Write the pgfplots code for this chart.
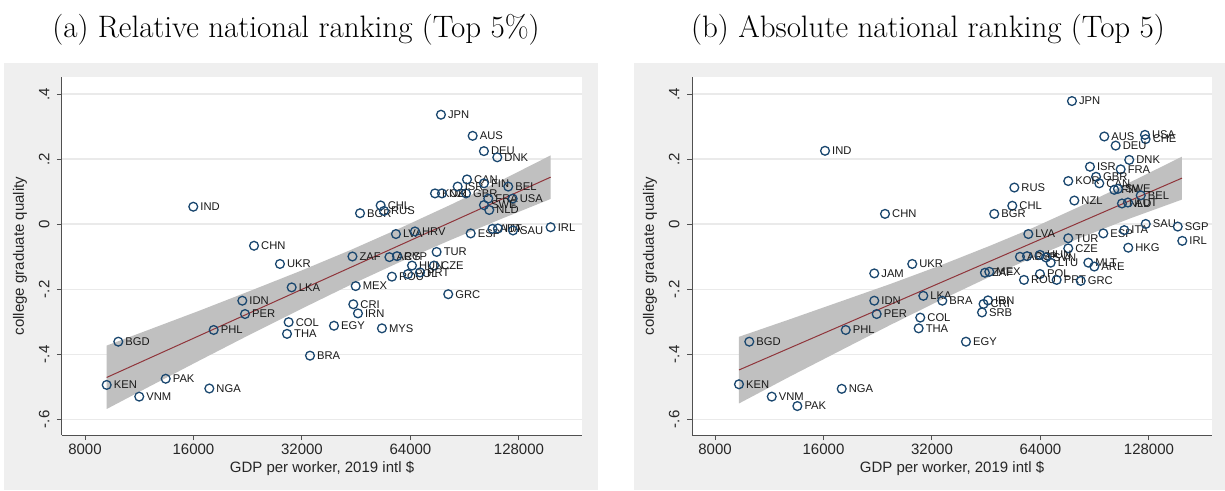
\documentclass[border=0pt]{standalone}
\usepackage{pgfplots}
\pgfplotsset{compat=1.18}
\usepackage{pgfplotstable}
\usepackage{fontspec}
\newfontfamily\sansf{Liberation Sans}
\definecolor{bggray}{RGB}{239,239,239}
\definecolor{gridc}{RGB}{234,234,234}
\definecolor{navy}{RGB}{26,71,111}
\definecolor{maroon}{RGB}{144,53,59}
\definecolor{bandc}{RGB}{192,192,192}
\definecolor{axc}{RGB}{80,80,80}

\pgfplotstableread{
x y lab
13.964 0.054 IND
14.524 -0.066 CHN
14.763 -0.122 UKR
14.871 -0.194 LKA
14.416 -0.235 IDN
14.441 -0.276 PER
14.152 -0.325 PHL
13.273 -0.361 BGD
14.843 -0.301 COL
14.828 -0.337 THA
15.261 -0.312 EGY
15.040 -0.404 BRA
13.166 -0.494 KEN
13.710 -0.475 PAK
13.466 -0.530 VNM
14.112 -0.505 NGA
15.461 -0.190 MEX
15.439 -0.246 CRI
15.482 -0.274 IRN
15.703 -0.320 MYS
16.314 -0.215 GRC
15.795 -0.161 ROU
15.980 -0.127 HUN
16.183 -0.127 CZE
15.943 -0.153 POL
16.054 -0.148 PRT
15.431 -0.099 ZAF
15.772 -0.101 ARG
15.842 -0.098 CYP
16.207 -0.085 TUR
15.832 -0.030 LVA
16.007 -0.022 HRV
16.521 -0.028 ESP
16.722 -0.014 AUT
16.772 -0.013 ITA
16.911 -0.019 SAU
17.258 -0.009 IRL
15.501 0.034 BGR
15.691 0.058 CHL
15.722 0.041 RUS
16.192 0.095 KOR
16.256 0.095 NZL
16.478 0.095 GBR
16.401 0.116 ISR
16.487 0.138 CAN
16.643 0.126 FIN
16.867 0.116 BEL
16.683 0.079 FRA
16.908 0.079 USA
16.643 0.059 SWE
16.692 0.044 NLD
16.247 0.337 JPN
16.539 0.272 AUS
16.643 0.225 DEU
16.766 0.206 DNK
}\leftdata

\pgfplotstableread{
x y lab
16.256 0.379 JPN
13.980 0.226 IND
14.533 0.032 CHN
14.434 -0.151 JAM
14.784 -0.122 UKR
14.434 -0.235 IDN
14.886 -0.220 LKA
15.061 -0.235 BRA
14.456 -0.276 PER
14.858 -0.287 COL
14.843 -0.320 THA
14.171 -0.325 PHL
13.282 -0.361 BGD
15.279 -0.361 EGY
13.187 -0.492 KEN
14.134 -0.506 NGA
13.489 -0.530 VNM
13.725 -0.559 PAK
15.454 -0.149 ZAF
15.494 -0.146 MEX
15.482 -0.234 IRN
15.441 -0.245 CRI
15.427 -0.271 SRB
15.854 -0.030 LVA
16.222 -0.043 TUR
16.222 -0.074 CZE
16.545 -0.028 ESP
16.738 -0.018 ITA
16.775 -0.072 HKG
15.777 -0.100 ARG
15.842 -0.098 CYP
15.961 -0.094 HUN
16.017 -0.102 SVN
16.060 -0.118 LTU
16.407 -0.118 MLT
16.462 -0.130 ARE
15.961 -0.153 POL
15.814 -0.171 ROU
16.115 -0.171 PRT
16.337 -0.174 GRC
16.554 0.270 AUS
16.929 0.275 USA
16.935 0.262 CHE
16.659 0.242 DEU
16.784 0.198 DNK
16.422 0.177 ISR
16.705 0.169 FRA
16.478 0.146 GBR
16.222 0.133 KOR
16.508 0.126 CAN
16.646 0.106 FIN
16.680 0.109 SWE
15.725 0.113 RUS
15.706 0.057 CHL
15.540 0.032 BGR
16.278 0.073 NZL
16.717 0.064 NLD
16.772 0.067 AUT
16.890 0.089 BEL
16.936 0.001 SAU
17.231 -0.007 SGP
17.273 -0.051 IRL
}\rightdata

\pgfplotsset{
  panel/.style={
    anchor=south west, width=520pt, height=358pt, scale only axis,
    xmin=12.754, xmax=17.547, ymin=-0.648, ymax=0.453,
    axis x line*=bottom, axis y line*=left,
    axis line style={draw=axc, line width=1pt},
    xtick={12.966,13.966,14.966,15.966,16.966},
    xticklabels={8000,16000,32000,64000,128000},
    ytick={-0.6,-0.4,-0.2,0,0.2,0.4},
    yticklabels={-.6,-.4,-.2,0,.2,.4},
    tick align=outside, major tick length=5pt,
    tick style={draw=axc, line width=1pt},
    ymajorgrids, grid style={draw=gridc, line width=1.6pt},
    tick label style={font=\sansf\fontsize{15}{17}\selectfont, text=black!85},
    yticklabel style={rotate=90, anchor=south},
    yticklabel shift=4pt,
    ylabel shift=5pt,
    label style={font=\sansf\fontsize{15}{17}\selectfont, text=black!85},
    xlabel={GDP per worker, 2019 intl \$},
    ylabel={college graduate quality},
    axis background/.style={fill=white},
    clip=false,
  },
  lab/.style={only marks, mark=o, mark size=4.4pt,
    mark options={draw=navy, line width=1.3pt},
    nodes near coords, point meta=explicit symbolic,
    nodes near coords align={anchor=west},
    every node near coord/.append style={anchor=west, inner sep=0pt, xshift=6.5pt,
      font=\sansf\fontsize{11.2}{13}\selectfont, text=black!90}},
}

\begin{document}
\begin{tikzpicture}[x=1pt,y=1pt]
\path (0,0) rectangle (1225,490);
\fill[bggray] (4,0) rectangle (598,427);
\fill[bggray] (634,0) rectangle (1225,427);
\node[font=\fontsize{31}{36}\selectfont] at (296,460) {(a) Relative national ranking (Top 5\%)};
\node[font=\fontsize{31}{36}\selectfont] at (928,460) {(b) Absolute national ranking (Top 5)};

\begin{axis}[panel, at={(62pt,55pt)}]
\addplot[fill=bandc, draw=none] coordinates {
(13.166,-0.373) (13.565,-0.323) (14.026,-0.265) (14.487,-0.205) (14.948,-0.144)
(15.408,-0.080) (15.869,-0.012) (16.330,0.059) (16.791,0.133) (17.258,0.212)
(17.258,0.078) (16.791,0.015) (16.330,-0.049) (15.869,-0.116) (15.408,-0.187)
(14.948,-0.262) (14.487,-0.339) (14.026,-0.418) (13.565,-0.498) (13.166,-0.568)
} -- cycle;
\addplot[draw=maroon, line width=1pt] coordinates {(13.166,-0.471) (17.258,0.145)};
\addplot[lab] table[x=x, y=y, meta=lab] {\leftdata};
\end{axis}

\begin{axis}[panel, at={(692pt,55pt)}]
\addplot[fill=bandc, draw=none] coordinates {
(13.187,-0.346) (13.657,-0.292) (14.118,-0.238) (14.579,-0.184) (15.040,-0.127)
(15.501,-0.066) (15.869,-0.015) (16.330,0.055) (16.791,0.129) (17.270,0.208)
(17.270,0.076) (16.791,0.018) (16.330,-0.042) (15.869,-0.106) (15.501,-0.161)
(15.040,-0.234) (14.579,-0.310) (14.118,-0.389) (13.657,-0.468) (13.187,-0.551)
} -- cycle;
\addplot[draw=maroon, line width=1pt] coordinates {(13.187,-0.448) (17.270,0.142)};
\addplot[lab] table[x=x, y=y, meta=lab] {\rightdata};
\end{axis}
\end{tikzpicture}
\end{document}
